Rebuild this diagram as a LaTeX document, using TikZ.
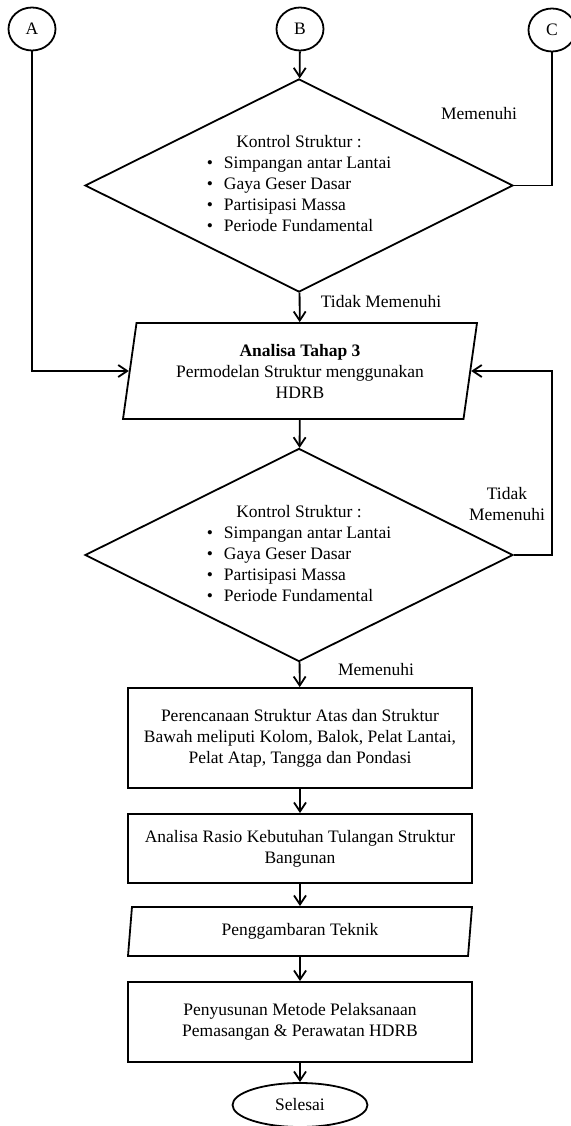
\documentclass[tikz,border=0pt]{standalone}
\usepackage{fontspec}
\setmainfont{Liberation Serif}
\usetikzlibrary{shapes.geometric,arrows.meta}
\begin{document}
\begin{tikzpicture}[x=1pt,y=-1pt,
  every node/.style={font=\fontsize{17.5pt}{21pt}\selectfont},
  line/.style={line width=1.8pt},
  flow/.style={line, -{Straight Barb[length=9pt,width=12pt,line width=1.8pt]}},
  conn/.style={ellipse, draw, line width=1.8pt, minimum width=47pt,
    minimum height=43pt, inner sep=0pt},
  decision/.style={diamond, draw, line width=1.8pt, minimum width=428pt,
    minimum height=213pt, inner sep=0pt, shape aspect=2},
  io/.style={trapezium, draw, line width=1.8pt, trapezium stretches body,
    trapezium left angle=76, trapezium right angle=104,
    align=center, inner sep=0pt},
  process/.style={rectangle, draw, line width=1.8pt, minimum width=344pt,
    align=center, inner sep=0pt},
  terminal/.style={ellipse, draw, line width=1.8pt, minimum width=135pt,
    minimum height=44pt, inner sep=0pt},
  note/.style={inner sep=0pt, align=center}
]
\useasboundingbox (0,0) rectangle (570,1126);

% off-page connectors
\node[conn] (A) at (32,29) {A};
\node[conn] (B) at (300,29) {B};
\node[conn] (C) at (552,30) {C};

% first structural check
\node[decision] (d1) at (299,185.5) {%
  \begin{tabular}{@{}l@{\hspace{11pt}}l@{}}
  \multicolumn{2}{@{}c@{}}{Kontrol Struktur :}\\
  \textbullet & Simpangan antar Lantai\\
  \textbullet & Gaya Geser Dasar\\
  \textbullet & Partisipasi Massa\\
  \textbullet & Periode Fundamental
  \end{tabular}};

% stage 3 modelling
\node[io, minimum width=354pt, minimum height=96pt] (p1) at (300,371)
  {\textbf{Analisa Tahap 3}\\Permodelan Struktur menggunakan\\HDRB};

% second structural check
\node[decision] (d2) at (299,555) {%
  \begin{tabular}{@{}l@{\hspace{11pt}}l@{}}
  \multicolumn{2}{@{}c@{}}{Kontrol Struktur :}\\
  \textbullet & Simpangan antar Lantai\\
  \textbullet & Gaya Geser Dasar\\
  \textbullet & Partisipasi Massa\\
  \textbullet & Periode Fundamental
  \end{tabular}};

\node[process, minimum height=100pt] (r1) at (300,738)
  {Perencanaan Struktur Atas dan Struktur\\Bawah meliputi Kolom, Balok, Pelat Lantai,\\Pelat Atap, Tangga dan Pondasi};
\node[process, minimum height=69pt] (r2) at (300,848.5)
  {Analisa Rasio Kebutuhan Tulangan Struktur\\Bangunan};
\node[io, minimum width=344pt, minimum height=49pt] (p2) at (300,931.5)
  {Penggambaran Teknik};
\node[process, minimum height=80pt] (r3) at (300,1022)
  {Penyusunan Metode Pelaksanaan\\Pemasangan \& Perawatan HDRB};
\node[terminal] (end) at (300,1105) {Selesai};

% branch labels
\node[note] (n1) at (479,114) {Memenuhi};
\node[note] (n2) at (381,302) {Tidak Memenuhi};
\node[note] (n3) at (507,504) {Tidak\\Memenuhi};
\node[note] (n4) at (376,670) {Memenuhi};

% connectors
\draw[flow] (B) -- (d1);
\draw[line] (C) |- (d1.east);
\draw[flow] (d1) -- (p1);
\draw[flow] (A) |- (p1.left side);
\draw[flow] (p1) -- (d2);
\draw[flow] (d2.east) -- (C.south |- d2.east) -- (C.south |- p1.right side) -- (p1.right side);
\draw[flow] (d2) -- (r1);
\draw[flow] (r1) -- (r2);
\draw[flow] (r2) -- (p2);
\draw[flow] (p2) -- (r3);
\draw[flow] (r3) -- (end);
\end{tikzpicture}
\end{document}
